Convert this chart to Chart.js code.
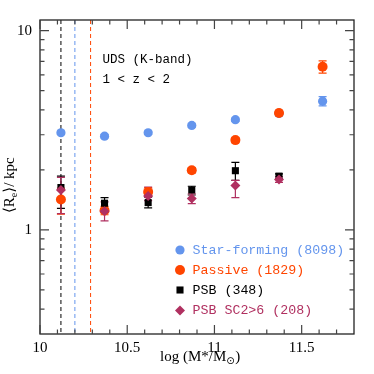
<!DOCTYPE html>
<html>
<head>
<meta charset="utf-8">
<script src="https://cdn.jsdelivr.net/npm/chart.js@4.4.1/dist/chart.umd.min.js"></script>
<style>
html,body{margin:0;padding:0;background:#fff;}
#wrap{width:374px;height:374px;}
</style>
</head>
<body>
<div id="wrap"><canvas id="c" width="374" height="374"></canvas></div>
<script>
// ---- data ----
const logMass = [10.12, 10.37, 10.62, 10.87, 11.12, 11.37, 11.62];
const sfRe = [3.07, 2.95, 3.07, 3.34, 3.57, 3.84, 4.42];
const sfErrLo = [0.06, 0.06, 0.06, 0.06, 0.07, 0.10, 0.23];
const sfErrHi = [0.06, 0.06, 0.06, 0.06, 0.07, 0.10, 0.24];
const passiveRe = [1.42, 1.25, 1.55, 1.99, 2.82, 3.86, 6.59];
const passiveErrLo = [0.22, 0.06, 0.08, 0.06, 0.08, 0.12, 0.47];
const passiveErrHi = [0.20, 0.06, 0.08, 0.06, 0.08, 0.12, 0.45];
const psbRe = [1.63, 1.36, 1.37, 1.585, 1.98, 1.86];
const psbErrLo = [0.35, 0.08, 0.08, 0.09, 0.21, 0.05];
const psbErrHi = [0.23, 0.09, 0.09, 0.07, 0.20, 0.05];
const sc2Re = [1.585, 1.24, 1.48, 1.435, 1.67, 1.79];
const sc2ErrLo = [0.38, 0.13, 0.08, 0.08, 0.22, 0.06];
const sc2ErrHi = [0.25, 0.14, 0.16, 0.08, 0.10, 0.06];
const massLimits = [10.12, 10.2, 10.29];
const xMajorTicks = [10, 10.5, 11, 11.5];
const xMinorTicks = [10.1,10.2,10.3,10.4,10.6,10.7,10.8,10.9,11.1,11.2,11.3,11.4,11.6,11.7];
const yMajorTicks = [1, 10];
const yMinorTicks = [0.4,0.5,0.6,0.7,0.8,0.9,2,3,4,5,6,7,8,9];
const legendLabels = ['Star-forming (8098)', 'Passive (1829)', 'PSB (348)', 'PSB SC2>6 (208)'];

const BLUE = '#6495ED', ORANGE = '#FF4500', BLACK = '#000000', MAROON = '#B03060';
const limitColors = [BLACK, BLUE, ORANGE];

function pts(vals){ return vals.map((v,i)=>({x:logMass[i], y:v})); }

const series = [
  {label:legendLabels[0], vals:sfRe, lo:sfErrLo, hi:sfErrHi, color:BLUE, style:'circle', r:4.6},
  {label:legendLabels[1], vals:passiveRe, lo:passiveErrLo, hi:passiveErrHi, color:ORANGE, style:'circle', r:5},
  {label:legendLabels[2], vals:psbRe, lo:psbErrLo, hi:psbErrHi, color:BLACK, style:'rect', r:5},
  {label:legendLabels[3], vals:sc2Re, lo:sc2ErrLo, hi:sc2ErrHi, color:MAROON, style:'rectRot', r:5}
];

const SERIF = '"Liberation Serif", "DejaVu Serif", serif';
const MONO = '"Liberation Mono", "DejaVu Sans Mono", monospace';

const custom = {
  id:'custom',
  beforeDatasetsDraw(chart){
    const {ctx, chartArea:a, scales:{x, y}} = chart;
    ctx.save();
    ctx.lineWidth = 1;
    ctx.setLineDash([4,3]);
    massLimits.forEach((v,i)=>{
      const px = x.getPixelForValue(v);
      ctx.strokeStyle = limitColors[i];
      ctx.beginPath(); ctx.moveTo(px, a.top); ctx.lineTo(px, a.bottom); ctx.stroke();
    });
    ctx.setLineDash([]);
    series.forEach(s=>{
      ctx.strokeStyle = s.color;
      ctx.lineWidth = 1.2;
      s.vals.forEach((v,i)=>{
        const px = x.getPixelForValue(logMass[i]);
        const y1 = y.getPixelForValue(v - s.lo[i]);
        const y2 = y.getPixelForValue(v + s.hi[i]);
        ctx.beginPath();
        ctx.moveTo(px, y1); ctx.lineTo(px, y2);
        ctx.moveTo(px-4, y1); ctx.lineTo(px+4, y1);
        ctx.moveTo(px-4, y2); ctx.lineTo(px+4, y2);
        ctx.stroke();
      });
    });
    ctx.restore();
  },
  afterDraw(chart){
    const {ctx, chartArea:a, scales:{x, y}} = chart;
    ctx.save();
    // frame
    ctx.strokeStyle = '#222'; ctx.lineWidth = 1.3;
    ctx.strokeRect(a.left, a.top, a.right-a.left, a.bottom-a.top);
    // ticks
    ctx.strokeStyle = '#444'; ctx.lineWidth = 1.2;
    ctx.beginPath();
    const xt = (v, len)=>{ const p = x.getPixelForValue(v);
      ctx.moveTo(p, a.bottom); ctx.lineTo(p, a.bottom-len);
      ctx.moveTo(p, a.top); ctx.lineTo(p, a.top+len); };
    const yt = (v, len)=>{ const p = y.getPixelForValue(v);
      ctx.moveTo(a.left, p); ctx.lineTo(a.left+len, p);
      ctx.moveTo(a.right, p); ctx.lineTo(a.right-len, p); };
    xMajorTicks.forEach(v=>xt(v,9)); xMinorTicks.forEach(v=>xt(v,4.5));
    yMajorTicks.forEach(v=>yt(v,9)); yMinorTicks.forEach(v=>yt(v,4.5));
    ctx.stroke();

    // annotation text
    ctx.fillStyle = '#000';
    ctx.font = '12.5px ' + MONO;
    ctx.textBaseline = 'middle'; ctx.textAlign = 'left';
    ctx.fillText('UDS (K-band)', 102.5, 59.5);
    ctx.fillText('1 < z < 2', 102.5, 79.5);

    // legend
    ctx.font = '13.3px ' + MONO;
    const ly = [250, 270, 290, 310.5];
    series.forEach((s,i)=>{
      const mx = 180, my = ly[i];
      ctx.fillStyle = s.color;
      ctx.beginPath();
      if (s.style === 'circle') { ctx.arc(mx, my, s.r, 0, Math.PI*2); }
      else if (s.style === 'rect') { const h = s.r*Math.SQRT1_2; ctx.rect(mx-h, my-h, 2*h, 2*h); }
      else { ctx.moveTo(mx, my-s.r); ctx.lineTo(mx+s.r, my); ctx.lineTo(mx, my+s.r); ctx.lineTo(mx-s.r, my); ctx.closePath(); }
      ctx.fill();
      ctx.fillText(s.label, 192.5, my);
    });

    // x title: log (M*/M_sun)
    ctx.fillStyle = '#000';
    ctx.textBaseline = 'alphabetic';
    ctx.font = '15px ' + SERIF;
    let tx = 160, tyb = 361;
    const p1 = 'log (M*/M';
    ctx.fillText(p1, tx, tyb); tx += ctx.measureText(p1).width;
    ctx.font = '10px "DejaVu Sans", sans-serif';
    ctx.fillText('\u2299', tx, tyb+3); tx += ctx.measureText('\u2299').width;
    ctx.font = '15px ' + SERIF;
    ctx.fillText(')', tx+0.5, tyb);

    // y title: <R_e>/ kpc
    ctx.save();
    ctx.translate(14, 213);
    ctx.rotate(-Math.PI/2);
    let sx = 0;
    ctx.font = '15px ' + SERIF;
    ctx.fillText('\u27E8R', sx, 0); sx += ctx.measureText('\u27E8R').width;
    ctx.font = '10px ' + SERIF;
    ctx.fillText('e', sx, 3); sx += ctx.measureText('e').width;
    ctx.font = '15px ' + SERIF;
    ctx.fillText('\u27E9/ kpc', sx, 0);
    ctx.restore();

    ctx.restore();
  }
};

new Chart(document.getElementById('c'), {
  type:'scatter',
  data:{
    datasets: series.map((s,k)=>({
      label:s.label,
      data:pts(s.vals),
      backgroundColor:s.color,
      borderColor:s.color,
      borderWidth:0,
      pointStyle:s.style,
      pointRadius:s.r,
      pointHoverRadius:s.r,
      order:4-k
    }))
  },
  options:{
    responsive:false,
    animation:false,
    devicePixelRatio:1,
    layout:{padding:{top:20, right:20, left:0, bottom:0}},
    plugins:{legend:{display:false}, tooltip:{enabled:false}},
    scales:{
      x:{
        type:'linear', min:10, max:11.8,
        grid:{display:false, drawTicks:false, tickLength:0},
        border:{display:false},
        afterBuildTicks(sc){ sc.ticks = xMajorTicks.map(v=>({value:v})); },
        afterFit(sc){ sc.height = 40; },
        ticks:{color:'#000', font:{family:SERIF, size:15}, padding:5, maxRotation:0,
          callback:(v)=>String(v)}
      },
      y:{
        type:'logarithmic', min:Math.pow(10,-0.5), max:11.3,
        grid:{display:false, drawTicks:false, tickLength:0},
        border:{display:false},
        afterBuildTicks(sc){ sc.ticks = yMajorTicks.map(v=>({value:v})); },
        afterFit(sc){ sc.width = 40; },
        ticks:{color:'#000', font:{family:SERIF, size:15}, padding:8,
          callback:(v)=>String(v)}
      }
    }
  },
  plugins:[custom]
});
</script>
</body>
</html>
